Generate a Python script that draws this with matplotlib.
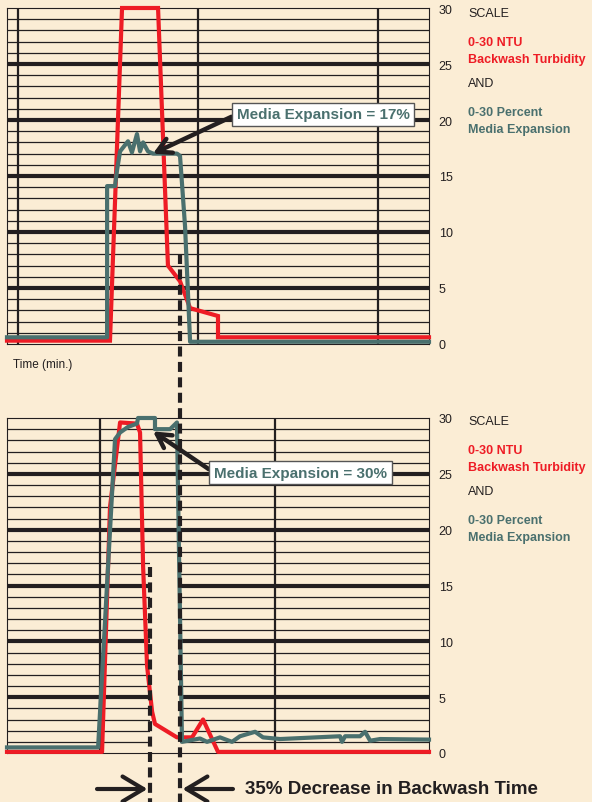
import matplotlib
matplotlib.use('Agg')
import matplotlib.pyplot as plt
import matplotlib.transforms as mtransforms
from matplotlib.patches import Rectangle
from matplotlib.lines import Line2D

plt.rcParams['font.family'] = ['Liberation Sans', 'DejaVu Sans']

# time in minutes, values on 0-30 scale (NTU / percent)
top_turb_t = [0, 5.72, 6.39, 8.39, 8.94, 9.61, 10.17, 11.72, 11.72, 23.44]
top_turb_v = [0.3, 0.3, 30, 30, 7.0, 5.6, 3.2, 2.5, 0.6, 0.6]

top_exp_t = [0, 5.56, 5.56, 6.0, 6.11, 6.28, 6.72, 6.94, 7.22, 7.39, 7.56, 7.83,
             8.11, 9.44, 9.61, 9.89, 10.17, 23.44]
top_exp_v = [0.6, 0.6, 14.1, 14.1, 15.5, 17.2, 18.1, 17.1, 18.75, 17.2, 18.0, 17.2,
             17.0, 17.0, 16.8, 10.5, 0.2, 0.2]

bot_turb_t = [0, 5.28, 5.72, 6.28, 7.22, 7.39, 7.56, 7.78, 8.06, 8.22, 9.44, 10.28,
              10.89, 11.72, 23.44]
bot_turb_v = [0.1, 0.1, 22.0, 29.6, 29.5, 28.7, 16.7, 7.8, 3.7, 2.6, 1.4, 1.4,
              3.0, 0.1, 0.1]

bot_exp_t = [0, 5.06, 6.0, 6.28, 6.72, 7.22, 7.28, 8.22, 8.22, 9.06, 9.44, 9.72,
             10.72, 11.11, 11.83, 12.5, 12.94, 13.78, 14.22, 15.17, 18.5, 18.61,
             18.78, 19.61, 19.89, 20.17, 20.72, 23.44]
bot_exp_v = [0.5, 0.5, 28.1, 28.7, 29.2, 29.5, 30, 30, 29, 29, 29.6, 1.0,
             1.3, 1.0, 1.4, 1.0, 1.5, 1.9, 1.4, 1.25, 1.5, 1.0,
             1.5, 1.5, 1.9, 1.1, 1.25, 1.2]

top_vlines = [0.61, 10.61, 20.61]
bot_vlines = [5.17, 14.89]
scale_ticks = [0, 5, 10, 15, 20, 25, 30]

bg = '#FBEDD5'
red = '#EE1C25'
teal = '#4A706E'
ink = '#231F20'

fig = plt.figure(figsize=(5.92, 8.03), dpi=100, facecolor=bg)
W, H = 592, 803


def make_ax(top_px, bot_px):
    ax = fig.add_axes([7 / W, 1 - bot_px / H, 422 / W, (bot_px - top_px) / H])
    ax.set_facecolor(bg)
    ax.set_xlim(0, 23.44)
    ax.set_ylim(0, 30)
    for s in ax.spines.values():
        s.set_color(ink)
        s.set_linewidth(0.8)
    ax.set_xticks([])
    ax.yaxis.tick_right()
    ax.set_yticks(scale_ticks)
    ax.tick_params(axis='y', length=0, pad=7, labelsize=9, labelcolor=ink)
    for v in range(1, 30):
        thick = v % 5 == 0
        ax.axhline(v, color=ink, lw=3.0 if thick else 0.9, zorder=1)
    return ax


def legend_text(y0):
    x = 468 / W
    fig.text(x, 1 - y0 / H, 'SCALE', fontsize=9, color=ink, va='center')
    fig.text(x, 1 - (y0 + 29) / H, '0-30 NTU', fontsize=9, color=red,
             weight='bold', va='center')
    fig.text(x, 1 - (y0 + 46) / H, 'Backwash Turbidity', fontsize=9, color=red,
             weight='bold', va='center')
    fig.text(x, 1 - (y0 + 70) / H, 'AND', fontsize=9, color=ink, va='center')
    fig.text(x, 1 - (y0 + 99) / H, '0-30 Percent', fontsize=9, color=teal,
             weight='bold', va='center')
    fig.text(x, 1 - (y0 + 116) / H, 'Media Expansion', fontsize=9, color=teal,
             weight='bold', va='center')


box = dict(boxstyle='square,pad=0.3', fc='white', ec='#555555', lw=1)
arrow = dict(arrowstyle='->,head_length=0.9,head_width=0.5', color=ink, lw=3.2,
             shrinkA=0, shrinkB=0, relpos=(0, 0.5))

# top chart
ax1 = make_ax(9, 345)
for x in top_vlines:
    ax1.axvline(x, color=ink, lw=1.6, zorder=1)
ax1.plot(top_turb_t, top_turb_v, color=red, lw=3, zorder=3, clip_on=False,
         solid_joinstyle='miter')
ax1.plot(top_exp_t, top_exp_v, color=teal, lw=3, zorder=4, clip_on=False)
ax1.annotate('Media Expansion = 17%', xy=(8.11, 17.0), xytext=(12.75, 20.5),
             ha='left', va='center', fontsize=11, weight='bold', color=teal,
             bbox=box, arrowprops=arrow, zorder=6)

# bottom chart
ax2 = make_ax(419, 754)
for x in bot_vlines:
    ax2.axvline(x, color=ink, lw=1.6, zorder=1)
ax2.add_patch(Rectangle((7.94, 0), 1.67, 17.1, fc=bg, ec='none', zorder=2))
ax2.plot(bot_turb_t, bot_turb_v, color=red, lw=3, zorder=3, clip_on=False)
ax2.plot(bot_exp_t, bot_exp_v, color=teal, lw=3, zorder=4, clip_on=False)
ax2.annotate('Media Expansion = 30%', xy=(8.11, 28.8), xytext=(11.5, 25.1),
             ha='left', va='center', fontsize=11, weight='bold', color=teal,
             bbox=box, arrowprops=arrow, zorder=6)

legend_text(14)
legend_text(422)

fig.text(13 / W, 1 - 365 / H, 'Time (min.)', fontsize=8.5, color=ink, va='center')

# dashed markers spanning both charts
trans = mtransforms.blended_transform_factory(ax2.transData, fig.transFigure)
for x, y_top in [(9.61, 1 - 255 / H), (7.94, 1 - 568 / H)]:
    fig.add_artist(Line2D([x, x], [y_top, 0], transform=trans, color=ink, lw=3,
                          dashes=(2.4, 1.3), zorder=10))

yb = 1 - 790 / H
big = dict(arrowstyle='->,head_length=1.5,head_width=0.9', color=ink, lw=3,
           shrinkA=0, shrinkB=0)
ax2.annotate('', xy=(7.8, yb), xycoords=trans, xytext=(5.0, yb), textcoords=trans,
             arrowprops=big, annotation_clip=False)
ax2.annotate('', xy=(9.75, yb), xycoords=trans, xytext=(12.55, yb), textcoords=trans,
             arrowprops=big, annotation_clip=False)
fig.text(245 / W, yb, '35% Decrease in Backwash Time', fontsize=13.5,
         weight='bold', color=ink, va='center')

fig.savefig('out.png', dpi=100, facecolor=bg)
